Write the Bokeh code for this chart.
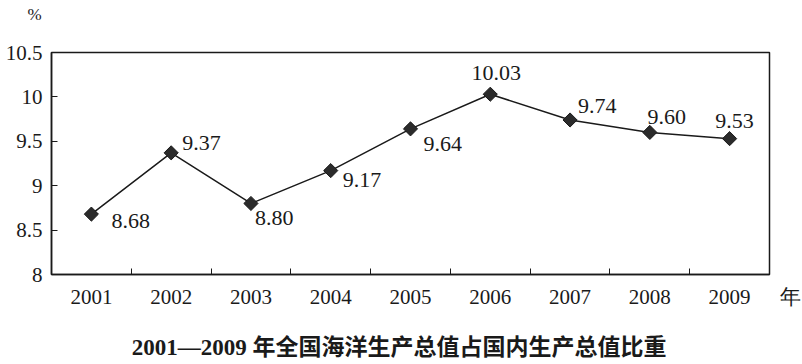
import numpy as np
from bokeh.plotting import figure
from bokeh.models import FixedTicker, Range1d, ColumnDataSource, CustomJSTickFormatter, LinearAxis
from bokeh.core.properties import value
from bokeh.embed import file_html
from bokeh.resources import INLINE

# ---- data ----
years = [2001, 2002, 2003, 2004, 2005, 2006, 2007, 2008, 2009]
shares = [8.68, 9.37, 8.80, 9.17, 9.64, 10.03, 9.74, 9.60, 9.53]
share_labels = ["8.68", "9.37", "8.80", "9.17", "9.64", "10.03", "9.74", "9.60", "9.53"]
y_ticks = [8, 8.5, 9, 9.5, 10, 10.5]
title_year = "2001—2009"
title_text = "年全国海洋生产总值占国内生产总值比重"
x_unit = "年"
y_unit = "%"

# ---- label placement (styles) ----
lab_dx = [20, 11, 4, 12, 13, 6, 8, 17, 5]
lab_dy = [7, -10, 15, 9, 15, -21, -14, -15, -18]
lab_align = ["left", "left", "left", "left", "left", "center", "left", "center", "center"]

INK = "#1a1a1a"
SERIF = "Liberation Serif"
x_start, x_end = years[0] - 0.5, years[-1] + 0.5

p = figure(width=802, height=364, x_range=Range1d(x_start, x_end), y_range=Range1d(y_ticks[0], y_ticks[-1]),
           output_backend="svg", toolbar_location=None,
           min_border_left=51, min_border_right=33, min_border_top=52, min_border_bottom=90)
p.title.text = ""
p.grid.visible = False
p.outline_line_color = INK
p.outline_line_width = 1.5
p.background_fill_color = "white"
p.border_fill_color = "white"

# x axis: labels at year centres, tick marks between years, unit "年" at the right end
xa = p.xaxis[0]
xa.ticker = FixedTicker(ticks=years + [x_end], minor_ticks=[y + 0.5 for y in years[:-1]])
xa.major_label_overrides = {x_end: "\u2003\u2003" + x_unit}
xa.major_tick_in = 0
xa.major_tick_out = 0
xa.minor_tick_in = 6
xa.minor_tick_out = 0
xa.minor_tick_line_color = INK
xa.axis_line_color = INK
xa.axis_line_width = 1.5
xa.major_label_text_font = SERIF
xa.major_label_text_font_size = "21px"
xa.major_label_text_color = INK
xa.major_label_standoff = 10
# chart caption under the axis
xa.axis_label = title_year + " " + title_text + "\u2003"
xa.axis_label_standoff = 23
xa.axis_label_text_font = "Liberation Serif, Noto Sans CJK SC"
xa.axis_label_text_font_size = "23px"
xa.axis_label_text_font_style = "bold"
xa.axis_label_text_color = INK

# y unit "%" above the top-left corner
top_axis = LinearAxis(ticker=FixedTicker(ticks=[x_start], minor_ticks=[]),
                      major_label_overrides={x_start: y_unit + "\u2003\u2003"},
                      axis_line_color=None, major_tick_line_color=None, minor_tick_line_color=None,
                      major_label_standoff=23, major_label_text_font=SERIF,
                      major_label_text_font_size="17px", major_label_text_color=INK)
p.add_layout(top_axis, "above")

ya = p.yaxis[0]
ya.ticker = FixedTicker(ticks=y_ticks, minor_ticks=[])
ya.formatter = CustomJSTickFormatter(code="return tick.toString();")
ya.major_tick_in = 6
ya.major_tick_out = 0
ya.major_tick_line_color = INK
ya.axis_line_color = INK
ya.axis_line_width = 1.5
ya.major_label_text_font = SERIF
ya.major_label_text_font_size = "21px"
ya.major_label_text_color = INK
ya.major_label_standoff = 9

src = ColumnDataSource(dict(x=years, y=shares, t=share_labels, dx=lab_dx, dy=lab_dy, al=lab_align))

p.line("x", "y", source=src, line_color=INK, line_width=1.5)
p.scatter("x", "y", source=src, marker="square", angle=np.pi / 4, size=10,
          fill_color="#2b2b2b", line_color=INK, line_width=1)
p.text("x", "y", text="t", source=src, x_offset="dx", y_offset="dy", text_align="al",
       text_baseline="middle", text_font=value(SERIF), text_font_size="22px", text_color=INK)

open("out.html", "w").write(file_html(p, INLINE))
